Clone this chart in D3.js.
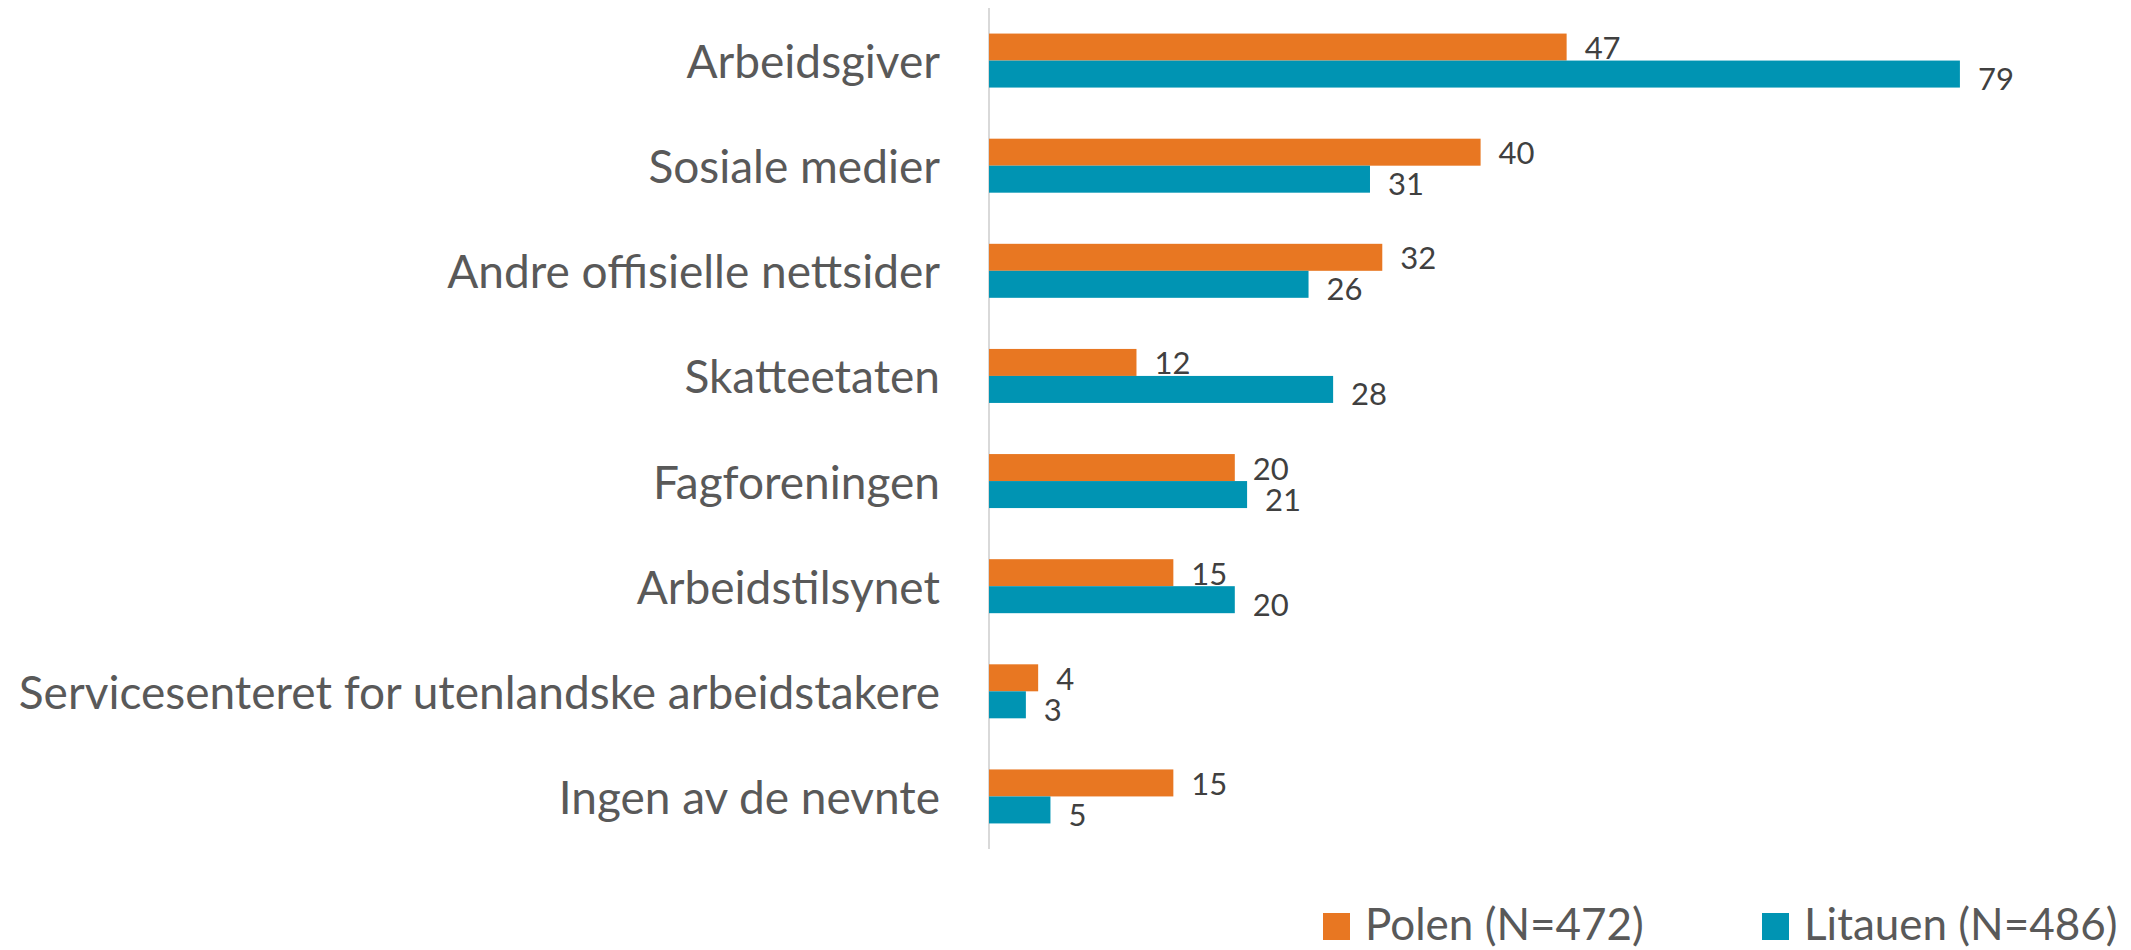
<!DOCTYPE html>
<html><head><meta charset="utf-8">
<script src="https://cdn.jsdelivr.net/npm/d3@7"></script>
<style>html,body{margin:0;padding:0;background:#fff;}svg{display:block;}</style>
</head><body>
<svg id="chart" width="2131" height="950"></svg>
<script>
const categories = ["Arbeidsgiver","Sosiale medier","Andre offisielle nettsider","Skatteetaten","Fagforeningen","Arbeidstilsynet","Servicesenteret for utenlandske arbeidstakere","Ingen av de nevnte"];
const polen = [47,40,32,12,20,15,4,15];
const litauen = [79,31,26,28,21,20,3,5];
const seriesNames = ["Polen (N=472)","Litauen (N=486)"];
const seriesColors = ["#E87722","#0094B3"];

const svg = d3.select("#chart");
const FONT = "Lato, 'Source Sans Pro', sans-serif";
const axisX = 989;
const x = d3.scaleLinear().domain([0, 80]).range([axisX, axisX + 12.29*80]);
const y = d3.scaleBand().domain(categories).range([8, 849]).paddingInner(0).paddingOuter(0);
const bw = y.bandwidth();
const sub = d3.scaleBand().domain([0,1]).range([bw/2 - 27, bw/2 + 27]);

const data = categories.map((c,i)=>({cat:c, vals:[polen[i], litauen[i]]}));

// axis line
svg.append("line").attr("x1", axisX).attr("x2", axisX).attr("y1", y.range()[0]).attr("y2", y.range()[1])
  .attr("stroke", "#d9d9d9").attr("stroke-width", 2);

const g = svg.selectAll("g.cat").data(data).enter().append("g")
  .attr("transform", d => `translate(0,${y(d.cat)})`);

g.selectAll("rect").data(d => d.vals.map((v,j)=>({v,j}))).enter().append("rect")
  .attr("x", x(0)).attr("y", d => sub(d.j)).attr("width", d => x(d.v) - x(0)).attr("height", sub.bandwidth())
  .attr("fill", d => seriesColors[d.j]);

g.selectAll("text.val").data(d => d.vals.map((v,j)=>({v,j}))).enter().append("text")
  .attr("class","val")
  .attr("x", d => x(d.v) + 18).attr("y", d => sub(d.j) + sub.bandwidth()/2 + (d.j === 0 ? 0 : 4))
  .attr("dominant-baseline","central")
  .attr("font-family", FONT).attr("font-size", 31).attr("fill", "#404040")
  .text(d => d.v);

// category labels
svg.selectAll("text.cat").data(categories).enter().append("text")
  .attr("class","cat")
  .attr("x", 940).attr("y", d => y(d) + bw/2)
  .attr("dominant-baseline","central")
  .attr("text-anchor","end")
  .attr("font-family", FONT).attr("font-size", 46).attr("fill", "#595959")
  .text(d => d);

// legend
const legX = [1323, 1762];
const leg = svg.selectAll("g.leg").data(seriesNames).enter().append("g")
  .attr("transform", (d,i) => `translate(${legX[i]},913)`);
leg.append("rect").attr("width",27).attr("height",27).attr("fill",(d,i)=>seriesColors[i]);
leg.append("text").attr("x", 42).attr("y", 27)
  .attr("font-family", FONT).attr("font-size", 44).attr("fill", "#595959")
  .text(d => d);
</script>
</body></html>
